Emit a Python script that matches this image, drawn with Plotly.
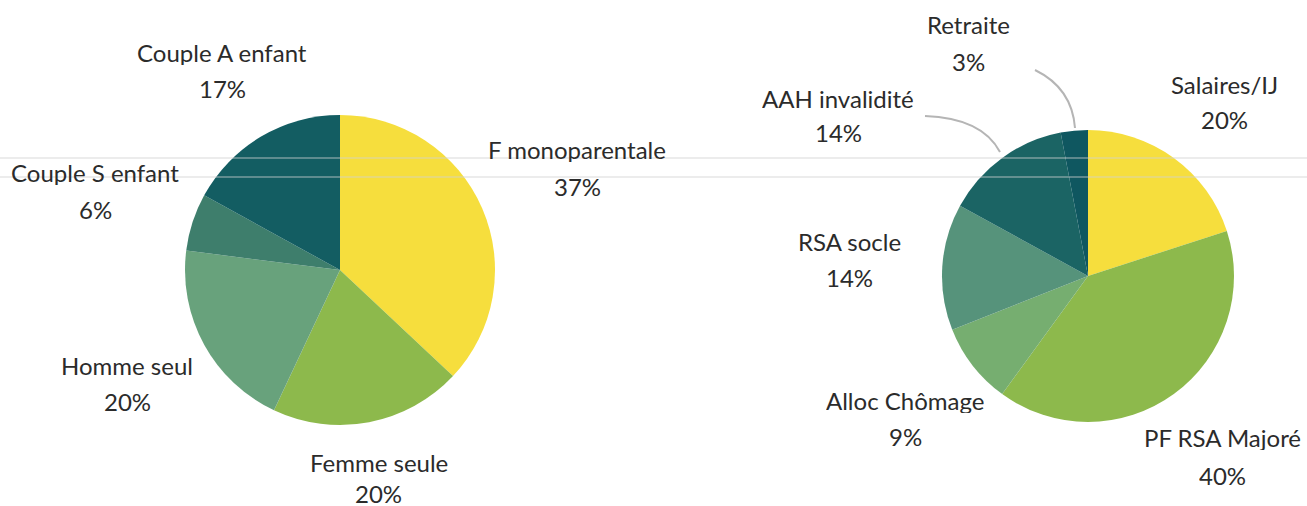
import plotly.graph_objects as go

W, H = 1307, 506

# ---- data ----
left_labels = ["F monoparentale", "Femme seule", "Homme seul", "Couple S enfant", "Couple A enfant"]
left_values = [37, 20, 20, 6, 17]
left_colors = ["#F6DE3D", "#8DB94C", "#68A27C", "#3E7E6C", "#135D62"]

right_labels = ["Salaires/IJ", "PF RSA Majoré", "Alloc Chômage", "RSA socle", "AAH invalidité", "Retraite"]
right_values = [20, 40, 9, 14, 14, 3]
right_colors = ["#F6DE3D", "#8DB94C", "#76AE70", "#56937B", "#1B6464", "#0F5760"]

# label placement (pixel centres: name line, value line)
left_pos = [(577, 149, 186), (379, 462, 493), (127, 365, 401), (95, 172, 209), (222, 52, 88)]
right_pos = [(1224, 84, 119), (1222, 437, 475), (905, 400, 436), (850, 241, 277), (838, 98, 132), (968, 24, 61)]


def px(x):
    return x / W


def py(y):
    return 1 - y / H


def domain(cx, cy, r):
    return dict(x=[px(cx - r), px(cx + r)], y=[py(cy + r), py(cy - r)])


fig = go.Figure()
fig.add_trace(go.Pie(labels=left_labels, values=left_values, sort=False, direction="clockwise",
                     rotation=0, textinfo="none", marker=dict(colors=left_colors, line=dict(width=0)),
                     domain=domain(340, 270, 155), showlegend=False, name="Ménages"))
fig.add_trace(go.Pie(labels=right_labels, values=right_values, sort=False, direction="clockwise",
                     rotation=0, textinfo="none", marker=dict(colors=right_colors, line=dict(width=0)),
                     domain=domain(1088, 276, 146), showlegend=False, name="Ressources"))

font = dict(family="Lato, 'Open Sans', sans-serif", size=24, color="#2b2b2b")
annotations = []
for labels, values, pos in ((left_labels, left_values, left_pos), (right_labels, right_values, right_pos)):
    for lab, val, (x, y1, y2) in zip(labels, values, pos):
        annotations.append(dict(x=px(x), y=py(y1), xref="paper", yref="paper", text=lab, height=26,
                                showarrow=False, font=font, xanchor="center", yanchor="middle"))
        annotations.append(dict(x=px(x), y=py(y2), xref="paper", yref="paper", text=f"{val}%", height=26,
                                showarrow=False, font=font, xanchor="center", yanchor="middle"))

shapes = []
# leader lines
for (x0, y0), (qx, qy), (x1, y1) in [((1035, 70), (1072, 88), (1075, 128)),
                                     ((925, 116), (982, 118), (1000, 152))]:
    shapes.append(dict(type="path", xref="paper", yref="paper",
                       path=f"M {px(x0)} {py(y0)} Q {px(qx)} {py(qy)} {px(x1)} {py(y1)}",
                       line=dict(color="#b5b5b5", width=2)))
# faint scan lines
for yy in (158, 177):
    shapes.append(dict(type="line", xref="paper", yref="paper", x0=0, x1=1, y0=py(yy), y1=py(yy),
                       line=dict(color="#d2d2d2", width=2), opacity=0.4, layer="above"))

fig.update_layout(width=W, height=H, margin=dict(l=0, r=0, t=0, b=0),
                  paper_bgcolor="white", plot_bgcolor="white",
                  annotations=annotations, shapes=shapes)

fig.write_html("out.html", config={"displayModeBar": False},
               post_script="document.body.style.margin='0';document.body.style.overflow='hidden';")
